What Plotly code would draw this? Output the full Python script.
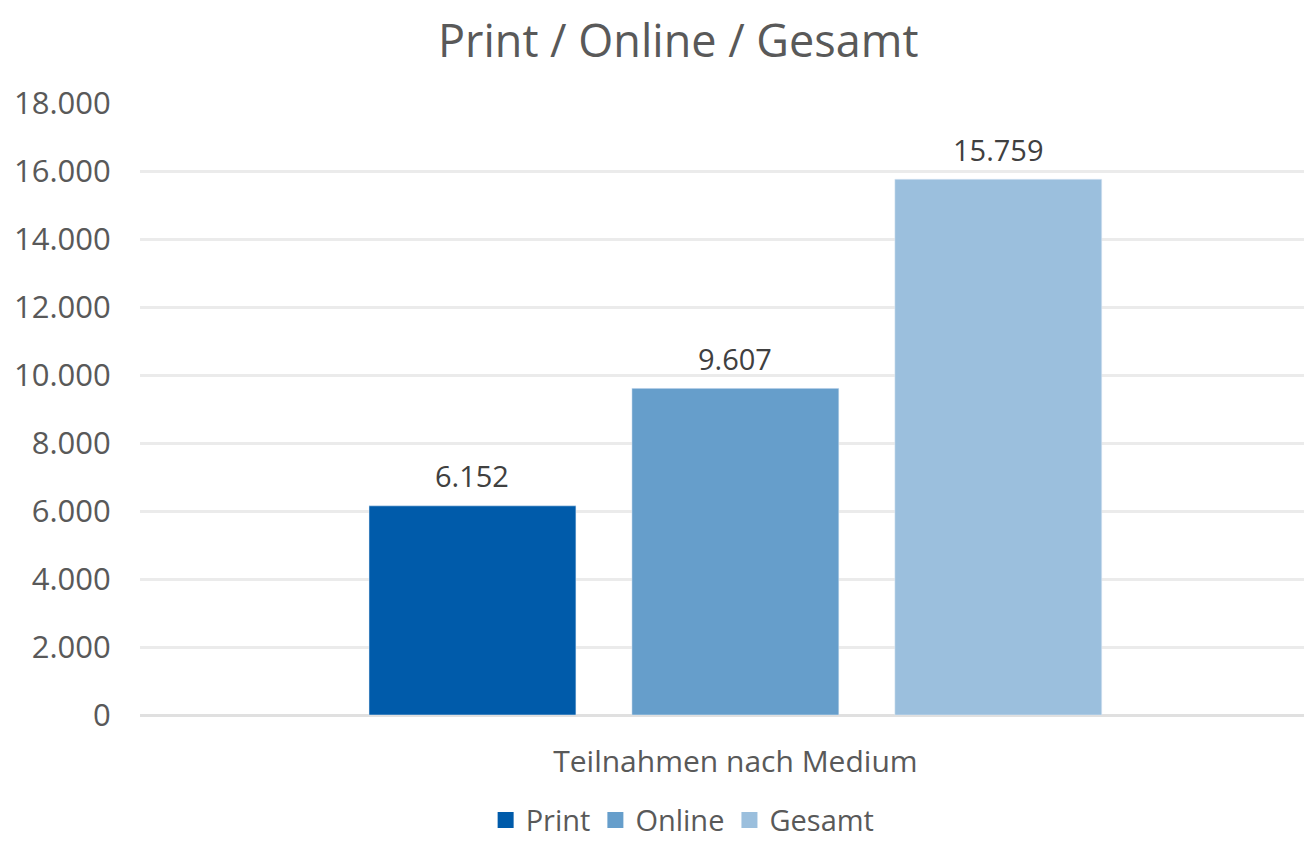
import plotly.graph_objects as go

category = ["Teilnahmen nach Medium"]
series_names = ["Print", "Online", "Gesamt"]
series_values = [[6152], [9607], [15759]]
series_colors = ["#005BAA", "#669ECB", "#9BBFDD"]
y_ticks = list(range(0, 18001, 2000))

BARGAP = 0.327
GROUPGAP = 0.213

fig = go.Figure()
for name, vals, col in zip(series_names, series_values, series_colors):
    fig.add_trace(go.Bar(x=category, y=vals, name=name, marker_color=col,
                         showlegend=False, legendgroup=name))
# legend entries with larger square swatches
for name, col in zip(series_names, series_colors):
    fig.add_trace(go.Scatter(x=[None], y=[None], mode="markers", name=name,
                             legendgroup=name,
                             marker=dict(symbol="square", size=18, color=col)))

# value labels placed above each bar (positions from data via axis scale)
slot = (1 - BARGAP) / len(series_names)
for i, vals in enumerate(series_values):
    offset = (i - (len(series_names) - 1) / 2) * slot
    for v in vals:
        fig.add_annotation(x=offset, y=v, xref="x", yref="y",
                           text=f"{v:,}".replace(",", "."), showarrow=False,
                           yanchor="middle", yshift=30,
                           font=dict(size=29, color="#404040"))

font_family = "Open Sans, Noto Sans, sans-serif"
fig.update_layout(
    width=1304, height=838,
    paper_bgcolor="white", plot_bgcolor="white",
    separators=",.",
    font=dict(family=font_family, color="#595959", size=30),
    title=dict(text="Print / Online / Gesamt", x=0.514, xanchor="center",
               y=0.96, yanchor="middle", font=dict(size=45, color="#595959")),
    margin=dict(l=132, r=0, t=95, b=131, autoexpand=False),
    barmode="group", bargap=BARGAP, bargroupgap=GROUPGAP,
    legend=dict(orientation="h", x=0.463, xanchor="center", y=-0.172, yanchor="middle",
                font=dict(size=29, color="#595959"), itemwidth=30, traceorder="normal",
                itemsizing="trace"),
    showlegend=True,
)
fig.update_xaxes(type="category", range=[-0.508, 0.492], showline=False, showgrid=False,
                 ticks="outside", ticklen=20, tickcolor="rgba(0,0,0,0)",
                 tickfont=dict(size=30, color="#595959"))
fig.update_yaxes(range=[0, 18000], tickvals=y_ticks, tickformat=",d",
                 showgrid=True, gridcolor="#EBEBEB", gridwidth=3,
                 zeroline=True, zerolinecolor="#E0E0E0", zerolinewidth=3,
                 showline=False, ticks="outside", ticklen=22, tickcolor="rgba(0,0,0,0)",
                 tickfont=dict(size=31, color="#595959"))
fig.write_html("out.html")
